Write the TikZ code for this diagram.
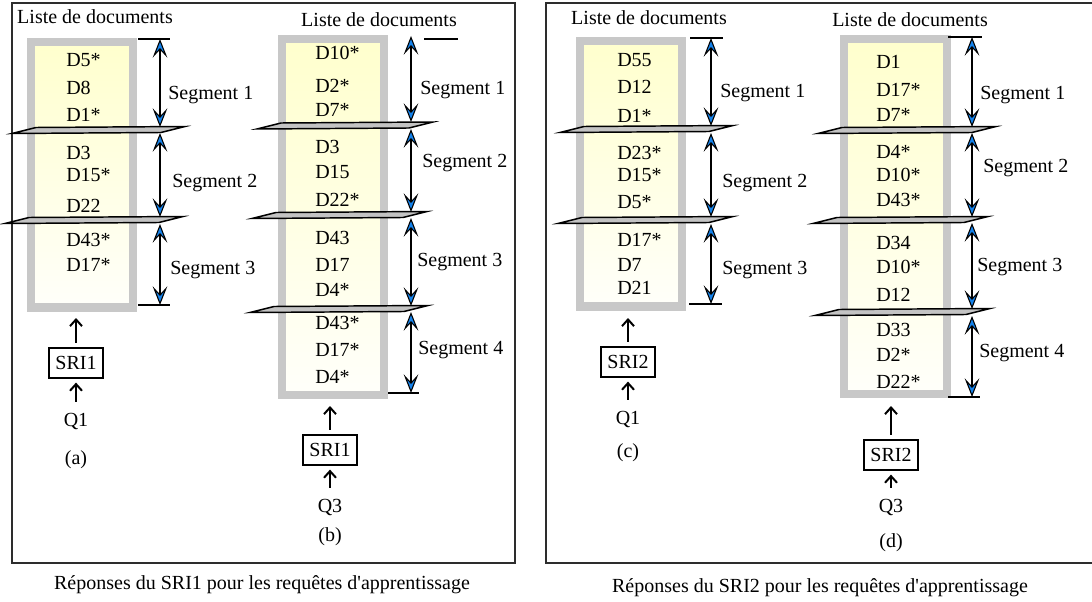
\documentclass[tikz,border=0pt]{standalone}
\usepackage{fontspec}
\setmainfont{Liberation Serif}
\usetikzlibrary{arrows.meta}
\definecolor{framegray}{RGB}{45,45,45}
\definecolor{boxgray}{RGB}{200,200,200}
\definecolor{listyellow}{RGB}{255,255,205}
\definecolor{tipblue}{RGB}{20,130,235}
\definecolor{plategray}{RGB}{195,195,195}

\newcommand{\segplate}[3]{\draw[plate] (#1,#3+3.5) -- (#1+24,#3-2.5) -- (#2,#3-3.5) -- (#2-24,#3+2.5) -- cycle;}

\tikzset{
  txt/.style={font=\fontsize{15}{17}\selectfont, inner sep=0pt},
  doc/.style={txt, anchor=west},
  seglabel/.style={txt, anchor=west},
  frame/.style={draw=framegray, line width=1.5pt},
  listbox/.style={draw=boxgray, line width=6pt, top color=listyellow, bottom color=listyellow!10},
  plate/.style={draw=black, fill=plategray, line width=1.1pt},
  segarrow/.style={line width=1.1pt, {Stealth[length=14pt, width=11pt, inset=6pt, fill=tipblue, line width=0.8pt]}-{Stealth[length=14pt, width=11pt, inset=6pt, fill=tipblue, line width=0.8pt]}},
  upar/.style={line width=1.5pt, -{Straight Barb[length=5pt, width=9pt]}},
  sri/.style={txt, draw, line width=1.4pt, minimum width=40pt, minimum height=22pt},
  tick/.style={line width=1pt}
}

\begin{document}
\begin{tikzpicture}[x=0.75pt, y=-0.75pt]
  \useasboundingbox (0,0) rectangle (1092,602);

  % frames and captions
  \draw[frame] (12,3) rectangle (515,563);
  \draw[frame] (1092,3) -- (546,3) -- (546,563) -- (1092,563);
  \node[txt] (capL) at (262,585) {Réponses du SRI1 pour les requêtes d\textquotesingle apprentissage};
  \node[txt] (capR) at (820,588) {Réponses du SRI2 pour les requêtes d\textquotesingle apprentissage};

  % panel (a)
  \node[txt] (titleA) at (95,17) {Liste de documents};
  \draw[listbox] (31,42) rectangle (133,307.5);
  \coordinate (listA) at (82,312);
  \foreach \y/\d in {60/D5*,88/D8,115/D1*,153/D3,175/D15*,206/D22,240/D43*,265/D17*}
    \node[doc] (a\y) at (66,\y) {\d};
  \draw[tick] (138,39) -- (170,39);
  \draw[tick] (138,305) -- (170,305);
  \segplate{12}{185}{130}
  \segplate{5}{183}{220}
  \foreach \ya/\yb/\xl/\yl/\n in {39/127/168/95/1,133/217/172/183/2,224/305/170/270/3}{
    \coordinate (aS\n) at (160,\ya);
    \coordinate (aE\n) at (160,\yb);
    \draw[segarrow] (aS\n) -- (aE\n);
    \node[seglabel] (aL\n) at (\xl,\yl) {Segment \n};
  }
  \node[sri] (sriA) at (76,363) {SRI1};
  \node[txt] (qA) at (76,421) {Q1};
  \node[txt] (capA) at (76,460) {(a)};
  \draw[upar, shorten <=3.5pt, shorten >=4.5pt] (sriA.north) -- (sriA.north |- listA);
  \draw[upar, shorten <=8pt, shorten >=3pt] (qA.north) -- (sriA.south);

  % panel (b)
  \node[txt] (titleB) at (379,20) {Liste de documents};
  \draw[listbox] (282,39.5) rectangle (383.5,394.5);
  \coordinate (listB) at (332,398);
  \foreach \y/\d in {53/D10*,86/D2*,110/D7*,147/D3,172/D15,200/D22*,238/D43,265/D17,290/D4*,323/D43*,350/D17*,377/D4*}
    \node[doc] (b\y) at (315,\y) {\d};
  \draw[tick] (424,39) -- (458,39);
  \draw[tick] (388,393) -- (419,393);
  \segplate{257}{433}{125.5}
  \segplate{252}{427}{215}
  \segplate{250}{428}{309}
  \foreach \ya/\yb/\xl/\yl/\n in {36/122/420/90/1,129/212/422/163/2,218/306/417/262/3,312/393/418/350/4}{
    \coordinate (bS\n) at (411,\ya);
    \coordinate (bE\n) at (411,\yb);
    \draw[segarrow] (bS\n) -- (bE\n);
    \node[seglabel] (bL\n) at (\xl,\yl) {Segment \n};
  }
  \node[sri] (sriB) at (330,450) {SRI1};
  \node[txt] (qB) at (330,507) {Q3};
  \node[txt] (capB) at (330,537) {(b)};
  \draw[upar, shorten <=3.5pt, shorten >=6pt] (sriB.north) -- (sriB.north |- listB);
  \draw[upar, shorten <=8pt, shorten >=3pt] (qB.north) -- (sriB.south);

  % panel (c)
  \node[txt] (titleC) at (649,18) {Liste de documents};
  \draw[listbox] (580,41) rectangle (682,306.5);
  \coordinate (listC) at (630,310);
  \foreach \y/\d in {60/D55,87/D12,116/D1*,153/D23*,175/D15*,202/D5*,240/D17*,265/D7,288/D21}
    \node[doc] (c\y) at (617,\y) {\d};
  \draw[tick] (690,38) -- (723,38);
  \draw[tick] (689,304) -- (722,304);
  \segplate{560}{733}{129}
  \segplate{558}{733}{220}
  \foreach \ya/\yb/\xl/\yl/\n in {38/126/720/93/1,133/217/722/183/2,224/304/722/270/3}{
    \coordinate (cS\n) at (711,\ya);
    \coordinate (cE\n) at (711,\yb);
    \draw[segarrow] (cS\n) -- (cE\n);
    \node[seglabel] (cL\n) at (\xl,\yl) {Segment \n};
  }
  \node[sri] (sriC) at (628,362) {SRI2};
  \node[txt] (qC) at (628,419) {Q1};
  \node[txt] (capC) at (628,453) {(c)};
  \draw[upar, shorten <=3.5pt, shorten >=6pt] (sriC.north) -- (sriC.north |- listC);
  \draw[upar, shorten <=8pt, shorten >=3pt] (qC.north) -- (sriC.south);

  % panel (d)
  \node[txt] (titleD) at (910,20) {Liste de documents};
  \draw[listbox] (844,39.5) rectangle (947,394);
  \coordinate (listD) at (895,398);
  \foreach \y/\d in {62/D1,90/D17*,115/D7*,152/D4*,175/D10*,200/D43*,243/D34,267/D10*,295/D12,330/D33,355/D2*,382/D22*}
    \node[doc] (d\y) at (876,\y) {\d};
  \draw[tick] (948,37) -- (982,37);
  \draw[tick] (948,397) -- (980,397);
  \segplate{818}{996}{130}
  \segplate{813}{988}{220}
  \segplate{815}{990}{312}
  \foreach \ya/\yb/\xl/\yl/\n in {37/127/980/95/1,133/217/983/168/2,223/309/977/267/3,316/397/979/353/4}{
    \coordinate (dS\n) at (972,\ya);
    \coordinate (dE\n) at (972,\yb);
    \draw[segarrow] (dS\n) -- (dE\n);
    \node[seglabel] (dL\n) at (\xl,\yl) {Segment \n};
  }
  \node[sri] (sriD) at (891,455) {SRI2};
  \node[txt] (qD) at (891,507) {Q3};
  \node[txt] (capD) at (891,543) {(d)};
  \draw[upar, shorten <=3.5pt, shorten >=6pt] (sriD.north) -- (sriD.north |- listD);
  \draw[upar, shorten <=8pt, shorten >=3pt] (qD.north) -- (sriD.south);
\end{tikzpicture}
\end{document}
